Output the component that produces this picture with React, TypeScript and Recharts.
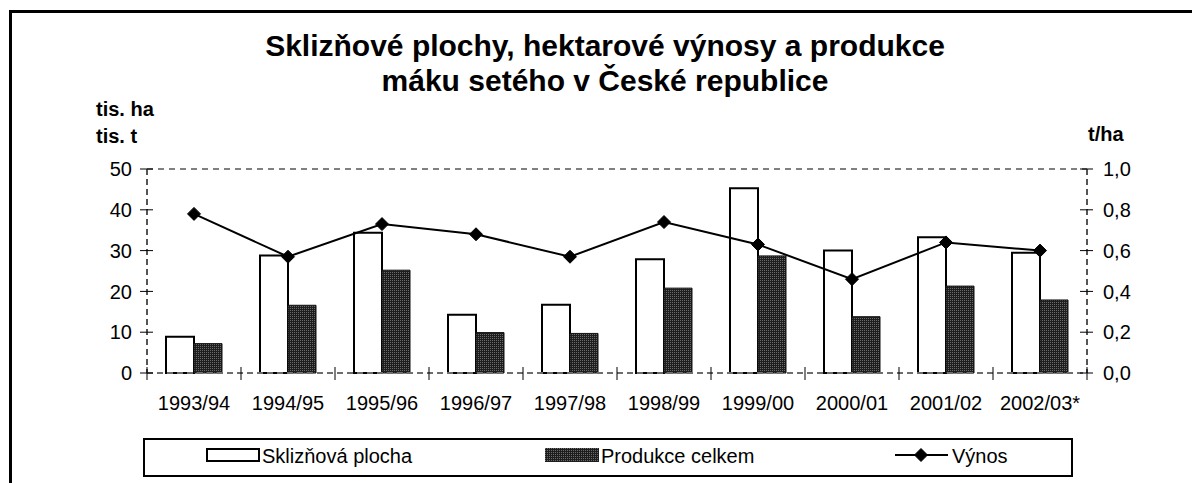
import React from "react";
import {
  ComposedChart,
  Bar,
  Line,
  XAxis,
  YAxis,
  ReferenceLine,
} from "recharts";

const CATEGORIES = [
  "1993/94",
  "1994/95",
  "1995/96",
  "1996/97",
  "1997/98",
  "1998/99",
  "1999/00",
  "2000/01",
  "2001/02",
  "2002/03*",
];
// tis. ha
const AREA = [8.9, 28.8, 34.4, 14.3, 16.7, 27.9, 45.3, 30.0, 33.3, 29.5];
// tis. t
const PRODUCTION = [7.2, 16.6, 25.2, 9.9, 9.7, 20.8, 28.7, 13.8, 21.3, 17.9];
// t/ha
const YIELD = [0.78, 0.57, 0.73, 0.68, 0.57, 0.74, 0.63, 0.46, 0.64, 0.6];

const LEFT_TICKS = [0, 10, 20, 30, 40, 50];
const RIGHT_TICKS = [0, 0.2, 0.4, 0.6, 0.8, 1.0];

const FONT = '"Liberation Sans", Arial, Helvetica, sans-serif';
const W = 1192;
const H = 483;
const MARGIN = { top: 169, right: 45, bottom: 80, left: 87 };
const Y_AXIS_W = 60;
const PLOT_W = W - MARGIN.left - MARGIN.right - 2 * Y_AXIS_W;
const BAND = PLOT_W / CATEGORIES.length;

const data = CATEGORIES.map((c, i) => ({
  name: c,
  area: AREA[i],
  production: PRODUCTION[i],
  yield: YIELD[i],
}));

const fmtComma = (v: number) => v.toFixed(1).replace(".", ",");

function XTick(props: any) {
  const { x, y, payload, index } = props;
  const half = BAND / 2;
  return (
    <g>
      <line x1={x - half} x2={x - half} y1={y - 6} y2={y + 7} stroke="#000" strokeWidth={1} />
      {index === CATEGORIES.length - 1 && (
        <line x1={x + half} x2={x + half} y1={y - 6} y2={y + 7} stroke="#000" strokeWidth={1} />
      )}
      <text x={x} y={y + 37} textAnchor="middle" fontSize={20} fontFamily={FONT} fill="#000">
        {payload.value}
      </text>
    </g>
  );
}

function LeftTick(props: any) {
  const { x, y, payload } = props;
  return (
    <g>
      <line x1={x - 7} x2={x + 6} y1={y} y2={y} stroke="#000" strokeWidth={1} />
      <text x={x - 15} y={y} dy="0.355em" textAnchor="end" fontSize={20} fontFamily={FONT} fill="#000">
        {payload.value}
      </text>
    </g>
  );
}

function RightTick(props: any) {
  const { x, y, payload } = props;
  return (
    <g>
      <line x1={x - 7} x2={x + 6} y1={y} y2={y} stroke="#000" strokeWidth={1} />
      <text x={x + 16} y={y} dy="0.355em" textAnchor="start" fontSize={20} fontFamily={FONT} fill="#000">
        {fmtComma(payload.value)}
      </text>
    </g>
  );
}

function Diamond(props: any) {
  const { cx, cy } = props;
  if (cx == null || cy == null) return null;
  const r = 6.5;
  return (
    <polygon
      points={`${cx},${cy - r} ${cx + r},${cy} ${cx},${cy + r} ${cx - r},${cy}`}
      fill="#000"
      stroke="#000"
    />
  );
}

function StipplePattern({ id }: { id: string }) {
  return (
    <pattern id={id} width={2} height={2} patternUnits="userSpaceOnUse">
      <rect width={2} height={2} fill="#1e1e1e" />
      <rect width={1} height={1} fill="#6a6a6a" />
    </pattern>
  );
}

function LegendBox() {
  return (
    <svg width={930} height={39} style={{ display: "block" }}>
      <defs>
        <StipplePattern id="stipple-legend" />
      </defs>
      <rect x={1} y={1} width={928} height={37} fill="#fff" stroke="#000" strokeWidth={2} />
      <rect x={64} y={11} width={52} height={12} fill="#fff" stroke="#000" strokeWidth={2} />
      <text x={119} y={25} fontSize={20} fontFamily={FONT} fill="#000">
        Sklizňová plocha
      </text>
      <rect x={402} y={10} width={54} height={14} fill="url(#stipple-legend)" />
      <text x={458} y={25} fontSize={20} fontFamily={FONT} fill="#000">
        Produkce celkem
      </text>
      <line x1={752} x2={805} y1={17} y2={17} stroke="#000" strokeWidth={2} />
      <Diamond cx={778} cy={17} />
      <text x={809} y={25} fontSize={20} fontFamily={FONT} fill="#000">
        Výnos
      </text>
    </svg>
  );
}

const textBold: React.CSSProperties = {
  position: "absolute",
  fontFamily: FONT,
  fontWeight: 700,
  color: "#000",
  whiteSpace: "nowrap",
};

export default function App() {
  return (
    <div style={{ position: "absolute", left: 0, top: 0, width: W, height: H, background: "#fff", overflow: "hidden" }}>
      <div
        style={{
          position: "absolute",
          left: 9,
          top: 10,
          width: 1300,
          height: 600,
          borderLeft: "3px solid #000",
          borderTop: "3px solid #000",
        }}
      />
      <div
        style={{
          ...textBold,
          left: 205,
          width: 800,
          top: 28,
          fontSize: 30,
          lineHeight: "35px",
          textAlign: "center",
        }}
      >
        Sklizňové plochy, hektarové výnosy a produkce
        <br />
        máku setého v České republice
      </div>
      <div style={{ ...textBold, left: 96, top: 97, fontSize: 20, lineHeight: "24px" }}>tis. ha</div>
      <div style={{ ...textBold, left: 96, top: 124, fontSize: 20, lineHeight: "24px" }}>tis. t</div>
      <div style={{ ...textBold, left: 1088, top: 122, fontSize: 20, lineHeight: "24px" }}>t/ha</div>

      <div style={{ position: "absolute", left: 0, top: 0 }}>
        <ComposedChart
          width={W}
          height={H}
          data={data}
          margin={MARGIN}
          barCategoryGap={19}
          barGap={0}
        >
          <defs>
            <StipplePattern id="stipple-bar" />
          </defs>
          <XAxis
            dataKey="name"
            height={30}
            tickSize={0}
            tickMargin={0}
            tick={<XTick />}
            interval={0}
            axisLine={{ stroke: "#6e6e6e", strokeWidth: 2, strokeDasharray: "6 4" }}
          />
          <YAxis
            yAxisId="left"
            orientation="left"
            width={Y_AXIS_W}
            domain={[0, 50]}
            ticks={LEFT_TICKS}
            tickSize={0}
            tickMargin={0}
            tick={<LeftTick />}
            axisLine={{ stroke: "#555", strokeWidth: 2, strokeDasharray: "6 4" }}
          />
          <YAxis
            yAxisId="right"
            orientation="right"
            width={Y_AXIS_W}
            domain={[0, 1]}
            ticks={RIGHT_TICKS}
            tickSize={0}
            tickMargin={0}
            tick={<RightTick />}
            axisLine={{ stroke: "#555", strokeWidth: 2, strokeDasharray: "6 4" }}
          />
          <ReferenceLine yAxisId="left" y={50} stroke="#808080" strokeWidth={2} strokeDasharray="6 5" />
          <Bar
            yAxisId="left"
            dataKey="area"
            name="Sklizňová plocha"
            fill="#fff"
            stroke="#000"
            strokeWidth={2}
            isAnimationActive={false}
          />
          <Bar
            yAxisId="left"
            dataKey="production"
            name="Produkce celkem"
            fill="url(#stipple-bar)"
            stroke="#111"
            strokeWidth={1}
            isAnimationActive={false}
          />
          <Line
            yAxisId="right"
            dataKey="yield"
            name="Výnos"
            stroke="#000"
            strokeWidth={2}
            dot={<Diamond />}
            activeDot={false}
            isAnimationActive={false}
          />
        </ComposedChart>
      </div>

      <div style={{ position: "absolute", left: 143, top: 438 }}>
        <LegendBox />
      </div>
    </div>
  );
}
